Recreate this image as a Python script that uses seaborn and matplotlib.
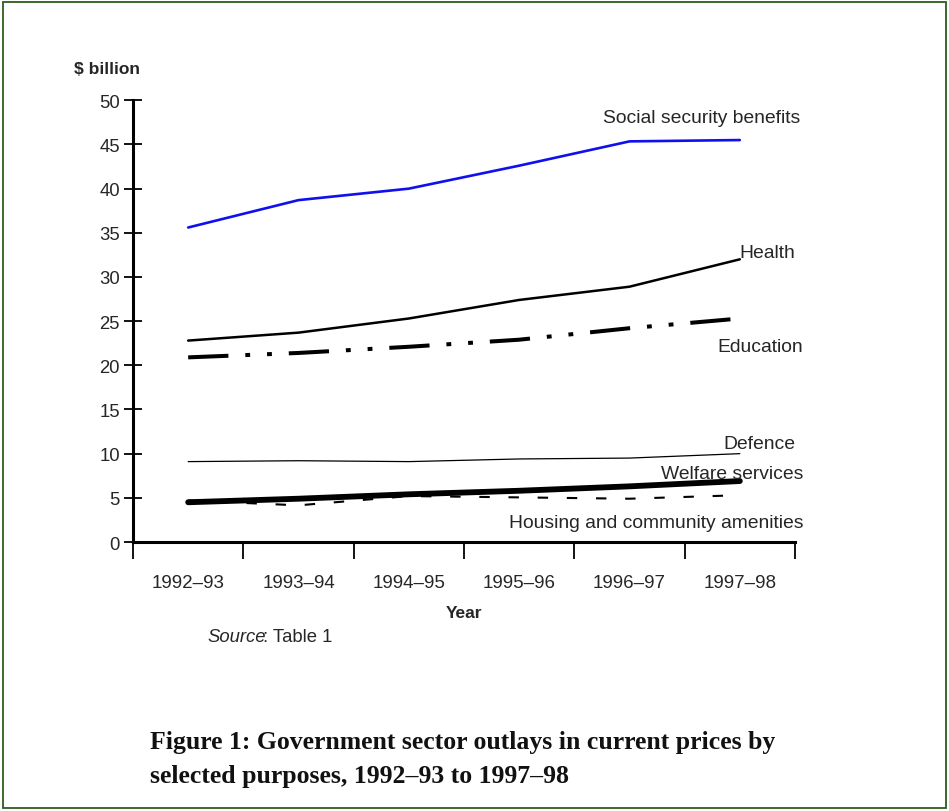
import numpy as np
import pandas as pd
import matplotlib
matplotlib.use("Agg")
import matplotlib.pyplot as plt
import seaborn as sns
from matplotlib.patches import Rectangle

# values, $ billion
years = ["1992\u201393", "1993\u201394", "1994\u201395", "1995\u201396", "1996\u201397", "1997\u201398"]
social_security = [35.6, 38.7, 40.0, 42.6, 45.35, 45.5]
health = [22.8, 23.7, 25.3, 27.4, 28.9, 32.0]
education = [20.9, 21.4, 22.1, 22.9, 24.2, 25.3]
defence = [9.1, 9.2, 9.1, 9.4, 9.5, 10.0]
welfare = [4.5, 4.9, 5.4, 5.8, 6.3, 6.9]
housing = [4.7, 4.15, 5.2, 5.05, 4.9, 5.3]

series_names = ["Social security benefits", "Health", "Education", "Defence",
                "Welfare services", "Housing and community amenities"]
series_values = [social_security, health, education, defence, welfare, housing]

rows = []
for name, vals in zip(series_names, series_values):
    for i, (yr, v) in enumerate(zip(years, vals)):
        rows.append({"series": name, "year": yr, "pos": i + 0.5, "value": v})
df = pd.DataFrame(rows)

styles = {
    "Social security benefits": dict(color="#1010ee", lw=1.9, ls="-"),
    "Health": dict(color="black", lw=1.8, ls="-"),
    "Education": dict(color="black", lw=2.9, ls=(0, (10, 4.2, 1.2, 4.2, 1.2, 4.2))),
    "Defence": dict(color="black", lw=0.9, ls="-"),
    "Welfare services": dict(color="black", lw=4.2, ls="-"),
    "Housing and community amenities": dict(color="black", lw=1.5, ls=(0, (5, 9))),
}
# label anchor (right edge x in axis units, y in $ billion)
label_pos = {
    "Social security benefits": (6.05, 48.0),
    "Health": (6.0, 32.8),
    "Education": (6.07, 22.1),
    "Defence": (6.0, 11.1),
    "Welfare services": (6.08, 7.7),
    "Housing and community amenities": (6.08, 2.2),
}

sns.set_style("white")
plt.rcParams["font.family"] = ["Liberation Sans", "DejaVu Sans"]

W, H = 949, 812
fig = plt.figure(figsize=(W / 100, H / 100), dpi=100)
ax = fig.add_axes([133 / W, 1 - 543 / H, (795 - 133) / W, (543 - 101.3) / H])

draw_order = ["Housing and community amenities", "Defence", "Welfare services",
              "Education", "Health", "Social security benefits"]
for name in draw_order:
    st = styles[name]
    sub = df[df["series"] == name]
    sns.lineplot(data=sub, x="pos", y="value", ax=ax, color=st["color"],
                 linewidth=st["lw"], linestyle=st["ls"], legend=False)
    lx, ly = label_pos[name]
    ax.text(lx, ly, name, ha="right", va="center", fontsize=13.9, clip_on=False)

ax.set_xlim(0, 6)
ax.set_ylim(0, 50)
ax.set_yticks(np.arange(0, 51, 5))
ax.set_xticks(np.arange(0, 7))
ax.set_xticklabels([])
ax.set_xticks(np.arange(len(years)) + 0.5, minor=True)
ax.set_xticklabels(years, minor=True)
ax.tick_params(axis="x", which="major", direction="out", length=12, width=1.3,
               color="black", bottom=True)
ax.tick_params(axis="x", which="minor", length=0, labelsize=13.5, pad=23)
ax.tick_params(axis="y", direction="inout", length=13, width=1.3, labelsize=13.3,
               color="black", left=True, pad=3)
for s in ["top", "right"]:
    ax.spines[s].set_visible(False)
for s in ["left", "bottom"]:
    ax.spines[s].set_linewidth(2.2)
    ax.spines[s].set_color("black")
ax.set_xlabel("Year", fontsize=12.5, fontweight="bold", labelpad=10)
ax.set_ylabel("")
ax.grid(False)

fig.text(74 / W, 1 - 70 / H, "$ billion", fontsize=12.5, fontweight="bold",
         ha="left", va="center")
fig.text(207 / W, 1 - 638 / H, "Source", fontsize=13.3, style="italic",
         ha="left", va="center")
fig.text(263 / W, 1 - 638 / H, ": Table 1", fontsize=13.3, ha="left", va="center")

title_lines = ["Figure 1: Government sector outlays in current prices by",
               "selected purposes, 1992\u201393 to 1997\u201398"]
for k, line in enumerate(title_lines):
    fig.text(150 / W, 1 - (749 + 34 * k) / H, line, fontsize=18.5, fontweight="bold",
             family="Liberation Serif", ha="left", va="baseline", color="#111111")

fig.patches.append(Rectangle((3 / W, 3 / H), 1 - 6 / W, 1 - 6 / H, transform=fig.transFigure,
                             fill=False, edgecolor="#2e5a1e", linewidth=1.3))

fig.savefig("out.png", dpi=100, facecolor="white")
